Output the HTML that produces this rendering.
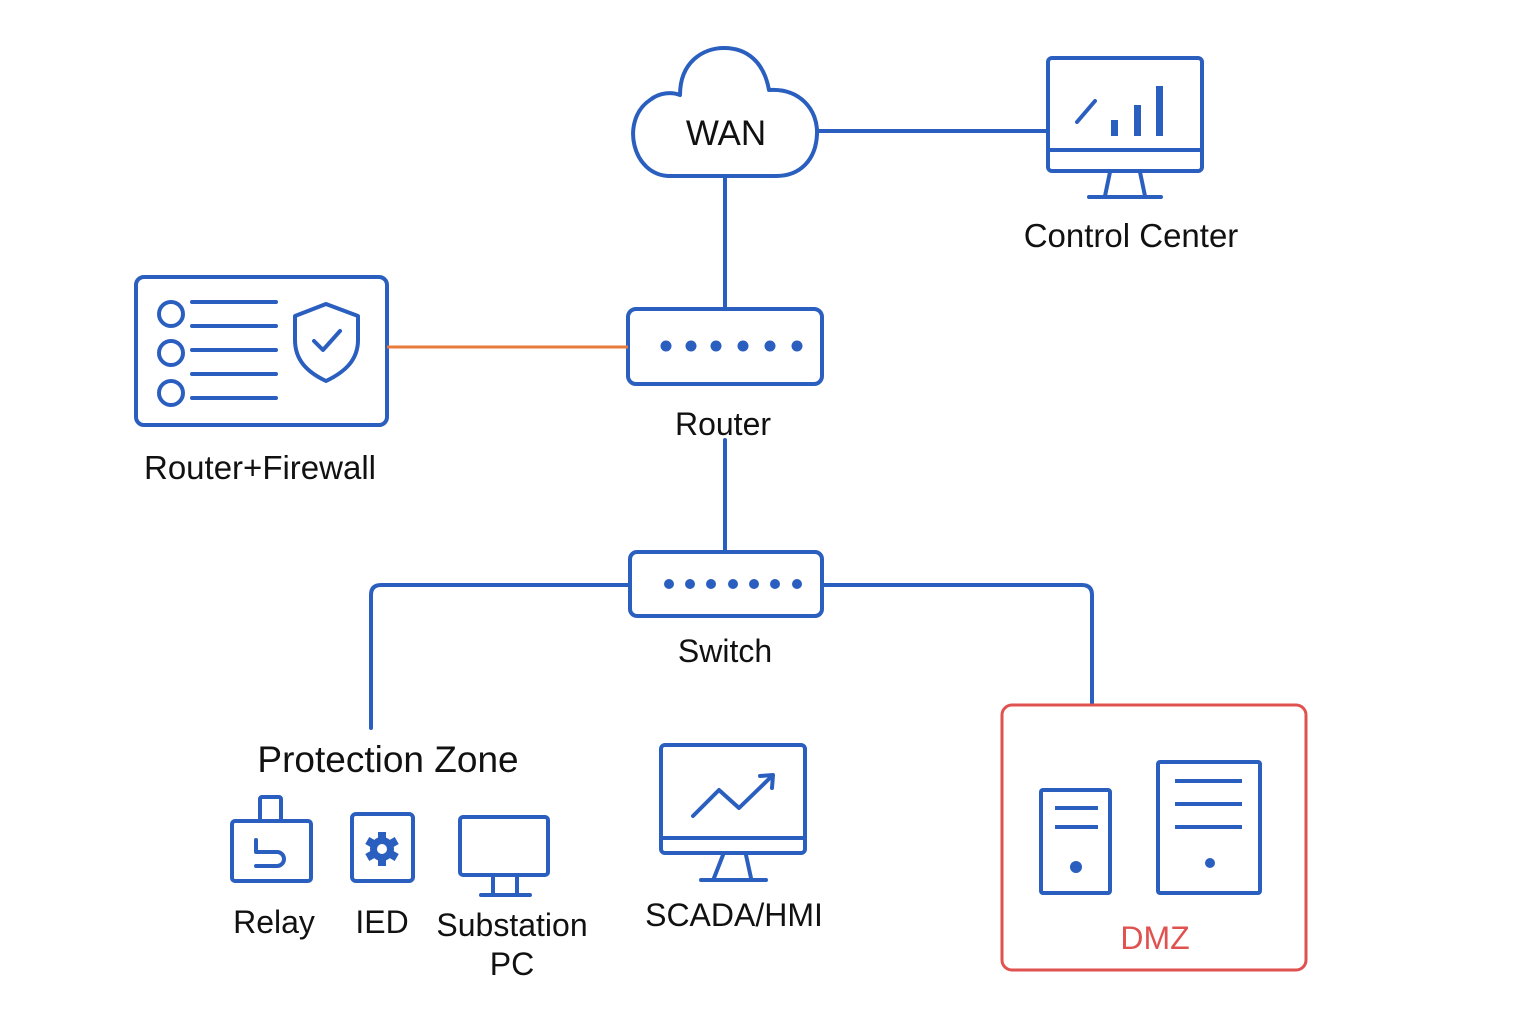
<!DOCTYPE html>
<html><head><meta charset="utf-8"><style>html,body{margin:0;padding:0;background:#fff}svg{display:block}</style></head>
<body>
<svg width="1536" height="1024" viewBox="0 0 1536 1024" xmlns="http://www.w3.org/2000/svg" font-family="'Liberation Sans', sans-serif">
<g fill="none" stroke="#2a5fbf" stroke-width="4" stroke-linecap="round" stroke-linejoin="round">
<line x1="725" y1="176" x2="725" y2="309"/>
<line x1="817" y1="131" x2="1047" y2="131"/>
<line x1="725" y1="440" x2="725" y2="552"/>
<path d="M630 585 H381 Q371 585 371 595 V728"/>
<path d="M822 585 H1082 Q1092 585 1092 595 V704"/>
<path d="M670 176 C632 176 620 120 650 100 C660 92 672 92 680 95 C680 62 703 48 724 48 C747 48 764 62 769 90 C800 88 818 110 817 134 C816 160 800 176 776 176 Z" fill="#fff"/>
<rect x="1048" y="58" width="154" height="113" rx="4"/>
<line x1="1048" y1="150" x2="1202" y2="150"/>
<path d="M1110 172 L1105 196 M1140 172 L1145 196"/>
<line x1="1089" y1="197" x2="1161" y2="197"/>
<line x1="1077" y1="122" x2="1095" y2="101"/>
<rect x="628" y="309" width="194" height="75" rx="8"/>
<rect x="136" y="277" width="251" height="148" rx="8"/>
<circle cx="171" cy="314" r="12"/><circle cx="171" cy="353" r="12"/><circle cx="171" cy="393" r="12"/>
<path d="M192 302H276 M192 326H276 M192 350H276 M192 374H276 M192 398H276"/>
<path d="M326 304 L358 316 V340 C358 360 345 372 326 381 C307 372 295 360 295 340 V316 Z"/>
<path d="M314 341 L323 350 L340 331"/>
<rect x="630" y="552" width="192" height="64" rx="7"/>
<rect x="232" y="821" width="79" height="60" rx="3"/>
<rect x="260" y="797" width="21" height="24" rx="2"/>
<path d="M256 840 V852 H277 A7 7 0 0 1 277 866 H256"/>
<rect x="352" y="814" width="61" height="67" rx="4"/>
<rect x="460" y="817" width="88" height="58" rx="3"/>
<path d="M493 875V893 M517 875V893 M481 895H530"/>
<rect x="661" y="745" width="144" height="108" rx="4"/>
<line x1="661" y1="838" x2="805" y2="838"/>
<polyline points="693,816 719,790 739,808 772,776"/>
<path d="M760 776 L773 775 L772 788"/>
<path d="M723 855 L714 878 M746 855 L751 878 M701 880 H766"/>
</g>
<g fill="#2a5fbf">
<rect x="1111" y="120" width="7" height="16"/><rect x="1134" y="105" width="7" height="31"/><rect x="1156" y="86" width="7" height="50"/>
<circle cx="666" cy="346" r="5.5"/><circle cx="691" cy="346" r="5.5"/><circle cx="716" cy="346" r="5.5"/><circle cx="743" cy="346" r="5.5"/><circle cx="770" cy="346" r="5.5"/><circle cx="797" cy="346" r="5.5"/>
<circle cx="669" cy="584" r="5"/><circle cx="690" cy="584" r="5"/><circle cx="711" cy="584" r="5"/><circle cx="733" cy="584" r="5"/><circle cx="754" cy="584" r="5"/><circle cx="775" cy="584" r="5"/><circle cx="797" cy="584" r="5"/>
</g>
<g transform="translate(382,849)" fill="#2a5fbf">
<circle r="12"/>
<g><rect x="-4" y="-17" width="8" height="34"/><rect x="-4" y="-17" width="8" height="34" transform="rotate(60)"/><rect x="-4" y="-17" width="8" height="34" transform="rotate(120)"/></g>
<circle r="5" fill="#fff"/>
</g>
<line x1="387" y1="347" x2="628" y2="347" stroke="#e87a3a" stroke-width="3"/>
<rect x="1002" y="705" width="304" height="265" rx="10" fill="none" stroke="#e0524f" stroke-width="3"/>
<g fill="none" stroke="#2a5fbf" stroke-width="4">
<rect x="1041" y="790" width="69" height="103" rx="2"/>
<path d="M1055 808H1098 M1055 827H1098"/>
<rect x="1158" y="762" width="102" height="131" rx="2"/>
<path d="M1175 781H1242 M1175 804H1242 M1175 827H1242"/>
</g>
<circle cx="1076" cy="867" r="6" fill="#2a5fbf"/><circle cx="1210" cy="863" r="5" fill="#2a5fbf"/>
<g fill="#111" text-anchor="middle" font-size="32">
<text x="726" y="145" font-size="35">WAN</text>
<text x="1131" y="247" font-size="33">Control Center</text>
<text x="260" y="479" font-size="33">Router+Firewall</text>
<text x="723" y="435">Router</text>
<text x="725" y="662">Switch</text>
<text x="388" y="772" font-size="37">Protection Zone</text>
<text x="274" y="933">Relay</text>
<text x="382" y="933">IED</text>
<text x="512" y="936">Substation</text>
<text x="512" y="975">PC</text>
<text x="734" y="926">SCADA/HMI</text>
<text x="1155" y="949" fill="#e0524f">DMZ</text>
</g>
</svg>
</body></html>
